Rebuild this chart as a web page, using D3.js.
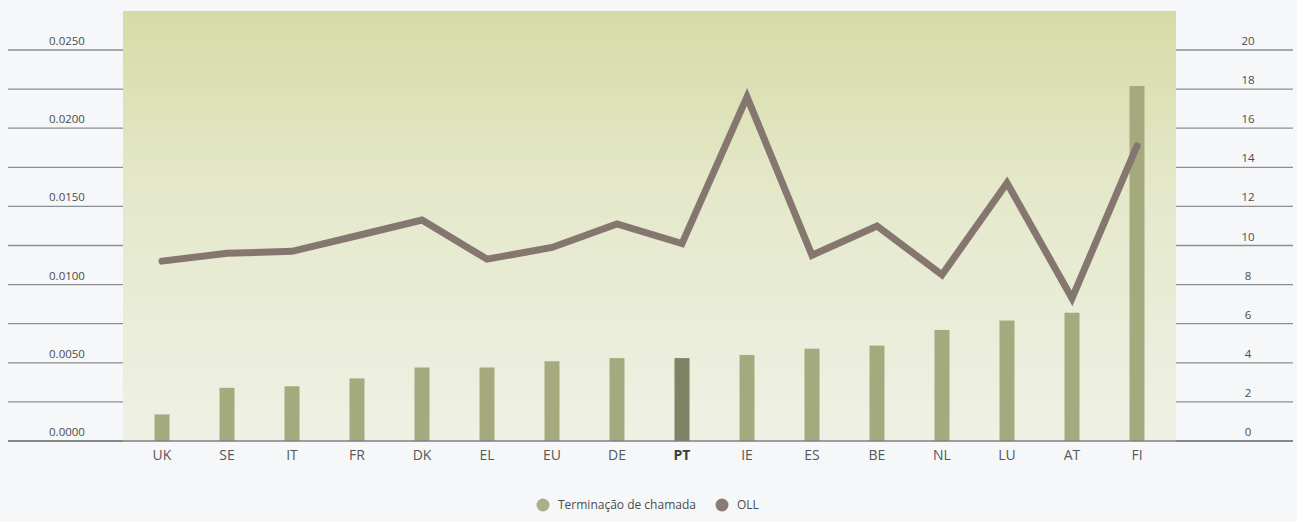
<!DOCTYPE html>
<html>
<head>
<meta charset="utf-8">
<script src="https://cdn.jsdelivr.net/npm/d3@7"></script>
<style>
  html, body { margin: 0; padding: 0; background: #f5f7f8; }
  svg { display: block; }
  text { font-family: "Open Sans", "Noto Sans", sans-serif; }
</style>
</head>
<body>
<svg id="chart" width="1297" height="522"></svg>
<script>
// Countries along the x axis
const countries = ["UK","SE","IT","FR","DK","EL","EU","DE","PT","IE","ES","BE","NL","LU","AT","FI"];
// Terminação de chamada (left axis)
const terminacao = [0.0017,0.0034,0.0035,0.0040,0.0047,0.0047,0.0051,0.0053,0.0053,0.0055,0.0059,0.0061,0.0071,0.0077,0.0082,0.0227];
// OLL (right axis)
const oll = [9.2,9.6,9.7,10.5,11.3,9.3,9.9,11.1,10.1,17.6,9.5,11.0,8.5,13.2,7.3,15.1];
// Axis ticks
const leftTicks = [0,0.0025,0.005,0.0075,0.01,0.0125,0.015,0.0175,0.02,0.0225,0.025];
const leftLabels = [0,0.005,0.01,0.015,0.02,0.025];
const rightTicks = [0,2,4,6,8,10,12,14,16,18,20];
const highlight = "PT";

const svg = d3.select("#chart");
const plotL = 123, plotR = 1176, plotTop = 11, base = 441;

const x = d3.scalePoint().domain(countries).range([plotL, plotR]).padding(0.6);
const yL = d3.scaleLinear().domain([0, 0.025]).range([base, 50]);
const yR = d3.scaleLinear().domain([0, 20]).range([base, 50]);

// background gradient of the plot panel
const defs = svg.append("defs");
const grad = defs.append("linearGradient").attr("id", "panel").attr("x1", 0).attr("y1", 0).attr("x2", 0).attr("y2", 1);
grad.append("stop").attr("offset", "0%").attr("stop-color", "#d6dba6");
grad.append("stop").attr("offset", "40%").attr("stop-color", "#e4e8c9");
grad.append("stop").attr("offset", "100%").attr("stop-color", "#eff1e5");

svg.append("rect").attr("x", plotL).attr("y", plotTop)
  .attr("width", plotR - plotL).attr("height", base - plotTop)
  .attr("fill", "url(#panel)");

// left axis rules and labels
const gl = svg.append("g");
gl.selectAll("line").data(leftTicks).join("line")
  .attr("x1", 8).attr("x2", plotL)
  .attr("y1", d => yL(d)).attr("y2", d => yL(d))
  .attr("stroke", "#8c8f92").attr("stroke-width", 1.3);
gl.selectAll("text").data(leftLabels).join("text")
  .attr("x", 67).attr("y", d => yL(d) - 5)
  .attr("text-anchor", "middle").attr("font-size", 11.5).attr("fill", "#4a4d50")
  .text(d => d3.format(".4f")(d));

// right axis rules and labels
const gr = svg.append("g");
gr.selectAll("line").data(rightTicks).join("line")
  .attr("x1", plotR).attr("x2", 1293)
  .attr("y1", d => yR(d)).attr("y2", d => yR(d))
  .attr("stroke", "#8c8f92").attr("stroke-width", 1.3);
gr.selectAll("text").data(rightTicks).join("text")
  .attr("x", 1248).attr("y", d => yR(d) - 5)
  .attr("text-anchor", "middle").attr("font-size", 11.5).attr("fill", "#4a4d50")
  .text(d => d);

// bars
const bw = 15;
svg.append("g").selectAll("rect").data(countries).join("rect")
  .attr("x", d => x(d) - bw / 2)
  .attr("y", (d, i) => yL(terminacao[i]))
  .attr("width", bw)
  .attr("height", (d, i) => base - yL(terminacao[i]))
  .attr("fill", d => d === highlight ? "#7f8264" : "#a5a97e");

// baseline
svg.append("line").attr("x1", 8).attr("x2", 1293).attr("y1", base).attr("y2", base)
  .attr("stroke", "#7d8083").attr("stroke-width", 1.5);

// OLL line
const line = d3.line().x((d, i) => x(countries[i])).y(d => yR(d));
svg.append("path").datum(oll)
  .attr("d", line).attr("fill", "none")
  .attr("stroke", "#85776f").attr("stroke-width", 7)
  .attr("stroke-linejoin", "miter").attr("stroke-linecap", "round");

// category labels
svg.append("g").selectAll("text").data(countries).join("text")
  .attr("x", d => x(d)).attr("y", 460)
  .attr("text-anchor", "middle").attr("font-size", 14)
  .attr("font-weight", d => d === highlight ? 700 : 400)
  .attr("fill", d => d === highlight ? "#3a3c3e" : "#55585b")
  .text(d => d);

// legend
const legend = [
  { label: "Terminação de chamada", color: "#a9b08b", cx: 543 },
  { label: "OLL", color: "#8a7b75", cx: 722 }
];
const lg = svg.append("g").selectAll("g").data(legend).join("g");
lg.append("circle").attr("cx", d => d.cx).attr("cy", 505).attr("r", 6.5).attr("fill", d => d.color);
lg.append("text").attr("x", d => d.cx + 15).attr("y", 509)
  .attr("font-size", 12).attr("fill", "#4a4d50").text(d => d.label);
</script>
</body>
</html>
